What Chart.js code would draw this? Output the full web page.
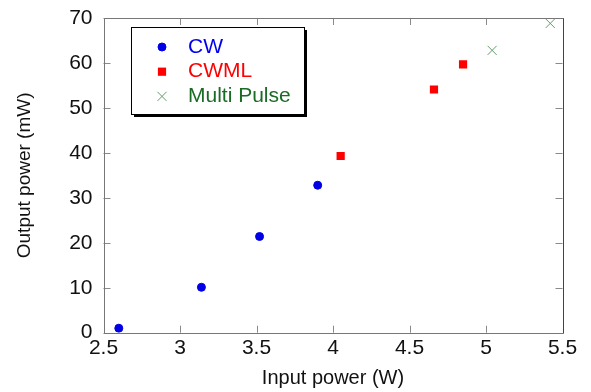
<!DOCTYPE html>
<html>
<head>
<meta charset="utf-8">
<script src="https://cdn.jsdelivr.net/npm/chart.js@4"></script>
<style>
  html, body { margin: 0; padding: 0; background: #fff; }
  #wrap { width: 591px; height: 392px; }
</style>
</head>
<body>
<div id="wrap"><canvas id="powerChart" width="591" height="392"></canvas></div>
<script>
// data
const cwX = [2.6, 3.14, 3.52, 3.9];
const cwY = [1.0, 10.1, 21.4, 32.8];
const cwmlX = [4.05, 4.66, 4.85];
const cwmlY = [39.3, 54.1, 59.7];
const pulseX = [5.04, 5.42];
const pulseY = [62.8, 68.8];

const xTicks = [2.5, 3, 3.5, 4, 4.5, 5, 5.5];
const yTicks = [0, 10, 20, 30, 40, 50, 60, 70];

const FONT = "'Liberation Sans', Arial, sans-serif";

function pts(xs, ys) {
  return xs.map((x, i) => ({ x: x, y: ys[i] }));
}

// ===== inward ticks on all four sides + box =====
const boxTicks = {
  id: "boxTicks",
  afterDatasetsDraw(chart) {
    const { ctx, chartArea: a, scales } = chart;
    const len = 7;
    ctx.save();
    ctx.lineWidth = 1;
    ctx.strokeStyle = "#8a8a8a";
    ctx.beginPath();
    xTicks.forEach((v) => {
      const px = Math.round(scales.x.getPixelForValue(v)) + 0.5;
      ctx.moveTo(px, a.bottom);
      ctx.lineTo(px, a.bottom - len);
      ctx.moveTo(px, a.top);
      ctx.lineTo(px, a.top + len);
    });
    yTicks.forEach((v) => {
      const py = Math.round(scales.y.getPixelForValue(v)) + 0.5;
      ctx.moveTo(a.left, py);
      ctx.lineTo(a.left + len, py);
      ctx.moveTo(a.right, py);
      ctx.lineTo(a.right - len, py);
    });
    ctx.stroke();

    const l = Math.round(a.left) + 0.5, r = Math.round(a.right) + 0.5;
    const t = Math.round(a.top) + 0.5, b = Math.round(a.bottom) + 0.5;
    ctx.strokeStyle = "#777";
    ctx.beginPath();
    ctx.moveTo(l, t); ctx.lineTo(l, b); ctx.lineTo(r, b);
    ctx.moveTo(l, t); ctx.lineTo(r, t);
    ctx.stroke();
    ctx.strokeStyle = "#444";
    ctx.beginPath();
    ctx.moveTo(r, t); ctx.lineTo(r, b);
    ctx.stroke();
    ctx.restore();
  },
};

// ===== boxed legend with shadow, inside the plot =====
const boxLegend = {
  id: "boxLegend",
  afterDraw(chart) {
    const ctx = chart.ctx;
    const x0 = 131, y0 = 27, w = 173, h = 87;
    const textColors = ["#0000ee", "#ff0000", "#1a6b24"];
    ctx.save();
    ctx.fillStyle = "#000";
    ctx.fillRect(x0 + 3, y0 + 3, w, h);
    ctx.fillStyle = "#fff";
    ctx.fillRect(x0, y0, w, h);
    ctx.strokeStyle = "#000";
    ctx.lineWidth = 1;
    ctx.strokeRect(x0 + 0.5, y0 + 0.5, w, h);

    chart.data.datasets.forEach((ds, i) => {
      const cy = 47 + i * 24.7;
      ctx.fillStyle = ds.backgroundColor;
      ctx.strokeStyle = ds.borderColor;
      ctx.lineWidth = ds.borderWidth;
      Chart.helpers.drawPoint(ctx, {
        pointStyle: ds.pointStyle,
        radius: ds.pointRadius,
        borderWidth: ds.borderWidth,
        rotation: 0,
      }, 162, cy);
      ctx.fillStyle = textColors[i];
      ctx.font = "21px " + FONT;
      ctx.textBaseline = "middle";
      ctx.textAlign = "left";
      ctx.fillText(ds.label, 188, cy);
    });
    ctx.restore();
  },
};

const ctx = document.getElementById("powerChart");

new Chart(ctx, {
  type: "scatter",
  data: {
    datasets: [
      {
        label: "CW",
        data: pts(cwX, cwY),
        pointStyle: "circle",
        pointRadius: 4,
        backgroundColor: "#0000e6",
        borderColor: "#0000e6",
        borderWidth: 1,
      },
      {
        label: "CWML",
        data: pts(cwmlX, cwmlY),
        pointStyle: "rect",
        pointRadius: 5.8,
        backgroundColor: "#ff0000",
        borderColor: "#ff0000",
        borderWidth: 0,
      },
      {
        label: "Multi Pulse",
        data: pts(pulseX, pulseY),
        pointStyle: "crossRot",
        pointRadius: 6.4,
        backgroundColor: "#5f9f6a",
        borderColor: "#5f9f6a",
        borderWidth: 1,
      },
    ],
  },
  options: {
    responsive: false,
    animation: false,
    events: [],
    layout: { padding: { top: 18, right: 28.5, left: 0, bottom: 0 } },
    plugins: {
      legend: { display: false },
      tooltip: { enabled: false },
    },
    scales: {
      x: {
        type: "linear",
        min: 2.5,
        max: 5.5,
        afterBuildTicks: (s) => { s.ticks = xTicks.map((v) => ({ value: v })); },
        afterFit: (s) => {
          s.height = 59.3;
          s.paddingLeft = 0;
          s.paddingRight = 0;
        },
        grid: { display: false, drawTicks: false },
        border: { display: false },
        ticks: {
          color: "#111",
          padding: 3,
          font: { family: FONT, size: 21 },
          callback: (v) => String(v),
          maxRotation: 0,
        },
        title: {
          display: true,
          text: "Input power (W)",
          color: "#111",
          font: { family: FONT, size: 20 },
          padding: { top: 4, bottom: 2 },
        },
      },
      y: {
        type: "linear",
        min: 0,
        max: 70,
        afterBuildTicks: (s) => { s.ticks = yTicks.map((v) => ({ value: v })); },
        afterFit: (s) => {
          s.width = 103.5;
          s.paddingTop = 0;
          s.paddingBottom = 0;
        },
        grid: { display: false, drawTicks: false },
        border: { display: false },
        ticks: {
          color: "#111",
          padding: 11,
          font: { family: FONT, size: 21 },
        },
        title: {
          display: true,
          text: "Output power (mW)",
          color: "#111",
          font: { family: FONT, size: 19 },
          padding: { top: 13, bottom: 0 },
        },
      },
    },
  },
  plugins: [boxTicks, boxLegend],
});
</script>
</body>
</html>
